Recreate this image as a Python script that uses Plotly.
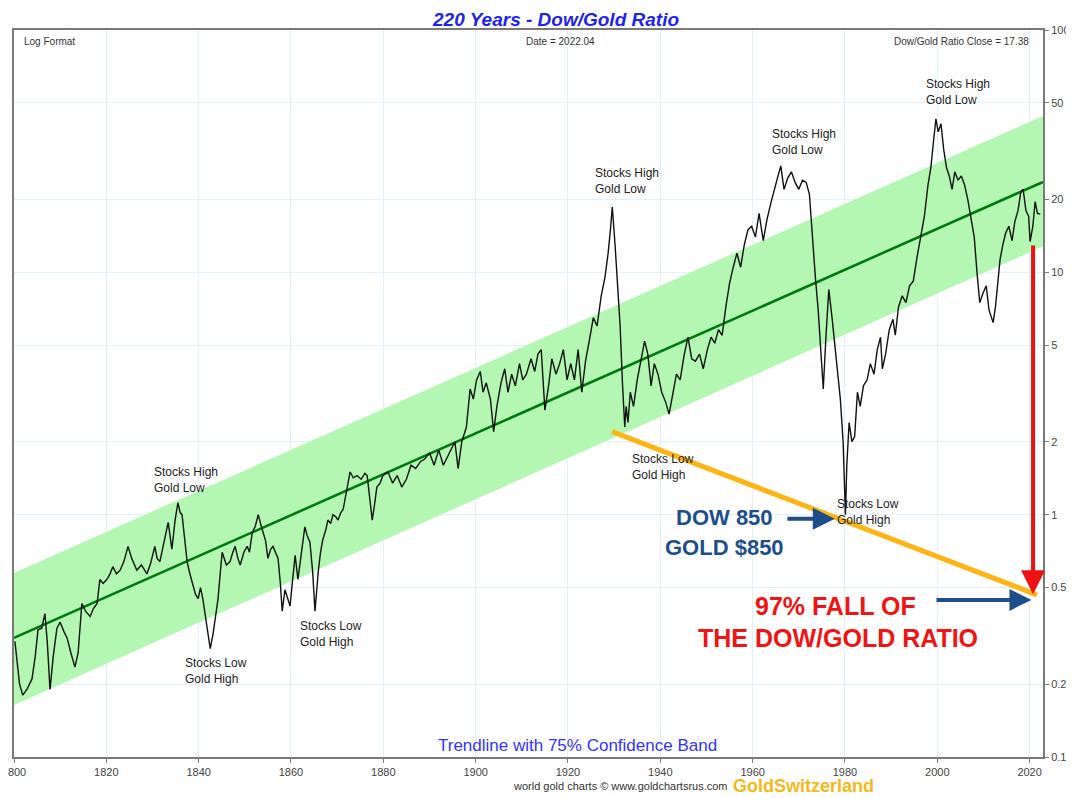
import math
import plotly.graph_objects as go

# ---------------- data ----------------
YEARS = [
    1800.2, 1800.6, 1801.2, 1801.9, 1802.8, 1803.9, 1804.6, 1805.2, 1806.0, 1806.7,
    1807.2, 1807.8, 1808.5, 1809.3, 1810.0, 1810.8, 1811.5, 1812.3, 1813.2, 1813.9,
    1814.7, 1815.5, 1816.5, 1817.2, 1818.0, 1818.6, 1819.3, 1820.1, 1820.8, 1821.4,
    1822.2, 1823.0, 1823.8, 1824.7, 1825.5, 1826.6, 1827.6, 1828.8, 1829.6, 1830.5,
    1831.0, 1831.6, 1832.5, 1833.4, 1834.2, 1834.9, 1835.5, 1836.0, 1836.4, 1837.0,
    1837.5, 1838.0, 1838.6, 1839.3, 1839.9, 1840.4, 1840.9, 1841.5, 1842.0, 1842.5,
    1843.1, 1843.7, 1844.2, 1844.7, 1845.1, 1846.0, 1846.8, 1847.4, 1847.9, 1848.5,
    1849.0, 1849.8, 1850.5, 1851.0, 1851.6, 1852.3, 1852.9, 1853.4, 1853.9, 1854.5,
    1855.0, 1855.6, 1856.1, 1856.7, 1857.2, 1857.7, 1858.1, 1858.7, 1859.3, 1859.8,
    1860.4, 1860.9, 1861.5, 1862.2, 1863.0, 1863.5, 1864.1, 1864.7, 1865.2, 1865.9,
    1866.4, 1866.9, 1867.5, 1868.0, 1868.6, 1869.1, 1869.7, 1870.2, 1870.8, 1871.3,
    1872.0, 1872.8, 1873.5, 1874.3, 1875.2, 1876.0, 1876.5, 1877.0, 1877.6, 1878.1,
    1878.6, 1879.3, 1879.9, 1881.0, 1882.0, 1883.0, 1884.0, 1885.0, 1886.0, 1887.0,
    1888.0, 1889.0, 1890.0, 1891.0, 1892.0, 1893.0, 1894.0, 1895.0, 1895.5, 1896.2,
    1897.0, 1898.0, 1898.8, 1899.5, 1900.2, 1901.0, 1901.6, 1902.3, 1903.2, 1903.9,
    1904.6, 1905.5, 1906.3, 1907.0, 1907.8, 1908.6, 1909.5, 1910.2, 1911.0, 1912.0,
    1912.8, 1913.5, 1914.2, 1915.0, 1915.8, 1916.5, 1917.4, 1918.2, 1919.0, 1919.8,
    1920.6, 1921.4, 1922.2, 1923.0, 1923.8, 1924.6, 1925.5, 1926.3, 1927.2, 1928.0,
    1928.7, 1929.2, 1929.6, 1930.2, 1930.8, 1931.3, 1931.8, 1932.3, 1932.6, 1933.0,
    1933.5, 1934.2, 1935.0, 1935.8, 1936.6, 1937.3, 1938.0, 1938.7, 1939.5, 1940.3,
    1941.2, 1941.9, 1942.6, 1943.5, 1944.3, 1945.2, 1946.0, 1946.8, 1947.6, 1948.5,
    1949.3, 1950.2, 1951.0, 1951.8, 1952.6, 1953.4, 1954.2, 1955.0, 1955.8, 1956.6,
    1957.4, 1958.2, 1959.0, 1959.8, 1960.6, 1961.4, 1962.3, 1963.1, 1964.0, 1964.8,
    1965.5, 1966.1, 1966.8, 1967.6, 1968.4, 1969.2, 1970.0, 1970.8, 1971.6, 1972.3,
    1973.0, 1973.6, 1974.2, 1974.8, 1975.3, 1975.9, 1976.5, 1977.2, 1977.8, 1978.4,
    1979.0, 1979.6, 1980.1, 1980.4, 1980.9, 1981.5, 1982.1, 1982.7, 1983.3, 1984.0,
    1984.8, 1985.5, 1986.3, 1987.0, 1987.7, 1988.1, 1988.8, 1989.6, 1990.4, 1990.9,
    1991.6, 1992.4, 1993.2, 1994.0, 1994.8, 1995.6, 1996.4, 1997.2, 1998.0, 1998.6,
    1999.2, 1999.7, 2000.2, 2000.8, 2001.4, 2002.0, 2002.6, 2003.2, 2003.8, 2004.5,
    2005.2, 2005.9, 2006.6, 2007.3, 2008.0, 2008.6, 2009.2, 2009.9, 2010.6, 2011.2,
    2012.1, 2012.6, 2013.0, 2013.6, 2014.2, 2014.8, 2015.5, 2016.2, 2016.8, 2017.5,
    2018.1, 2018.6, 2019.2, 2019.8, 2020.1, 2020.7, 2021.2, 2021.7, 2022.3,
]
RATIO = [
    0.30, 0.25, 0.20, 0.18, 0.19, 0.21, 0.26, 0.335, 0.34, 0.39,
    0.30, 0.19, 0.26, 0.34, 0.36, 0.33, 0.31, 0.27, 0.235, 0.27,
    0.43, 0.40, 0.38, 0.41, 0.43, 0.54, 0.52, 0.54, 0.57, 0.61,
    0.57, 0.59, 0.64, 0.74, 0.66, 0.59, 0.62, 0.57, 0.63, 0.74,
    0.66, 0.64, 0.78, 0.93, 0.72, 0.95, 1.12, 1.02, 1.00, 0.80,
    0.64, 0.58, 0.53, 0.47, 0.45, 0.50, 0.45, 0.38, 0.32, 0.28,
    0.32, 0.38, 0.45, 0.58, 0.70, 0.62, 0.64, 0.70, 0.74, 0.66,
    0.62, 0.70, 0.74, 0.70, 0.84, 0.90, 1.00, 0.92, 0.86, 0.78,
    0.66, 0.72, 0.74, 0.70, 0.66, 0.52, 0.40, 0.49, 0.45, 0.42,
    0.55, 0.68, 0.54, 0.70, 0.89, 0.82, 0.77, 0.58, 0.40, 0.58,
    0.70, 0.79, 0.86, 0.95, 0.92, 1.00, 0.98, 0.95, 1.02, 1.05,
    1.25, 1.50, 1.42, 1.45, 1.40, 1.48, 1.45, 1.20, 0.95, 1.10,
    1.30, 1.35, 1.45, 1.50, 1.35, 1.45, 1.30, 1.40, 1.60, 1.55,
    1.65, 1.70, 1.80, 1.60, 1.85, 1.60, 1.75, 1.90, 2.00, 1.55,
    2.00, 2.30, 3.30, 3.00, 3.60, 3.90, 3.20, 3.50, 3.00, 2.20,
    2.80, 3.50, 4.00, 3.20, 3.80, 3.40, 4.20, 3.60, 3.80, 4.40,
    3.90, 4.60, 4.80, 2.70, 3.40, 4.40, 3.80, 4.20, 4.80, 3.60,
    4.20, 3.60, 4.80, 3.20, 4.30, 5.20, 6.50, 6.00, 8.00, 9.50,
    12.0, 15.0, 18.6, 13.0, 9.00, 6.00, 3.50, 2.30, 2.80, 2.40,
    3.20, 2.80, 3.60, 4.40, 5.20, 4.60, 3.40, 4.20, 3.80, 3.20,
    2.90, 2.60, 3.10, 3.80, 3.60, 4.60, 5.40, 4.40, 4.30, 4.60,
    4.00, 4.80, 5.40, 5.10, 5.80, 5.50, 7.20, 9.00, 10.5, 12.0,
    10.5, 13.0, 15.0, 15.5, 14.0, 17.5, 13.5, 16.5, 19.5, 22.0,
    25.0, 27.5, 22.0, 24.5, 26.0, 23.5, 22.0, 24.0, 23.5, 21.0,
    13.0, 9.50, 7.00, 4.50, 3.30, 5.50, 8.50, 6.50, 5.00, 4.00,
    3.00, 2.00, 1.00, 1.60, 2.40, 2.00, 2.10, 3.20, 2.80, 3.40,
    3.60, 4.20, 3.80, 4.80, 5.40, 4.00, 4.60, 5.80, 6.40, 5.50,
    7.20, 8.00, 7.50, 8.80, 9.20, 11.5, 14.0, 17.0, 23.0, 27.0,
    35.0, 43.0, 38.0, 41.0, 32.0, 27.0, 25.0, 22.0, 26.0, 24.0,
    25.0, 23.0, 20.0, 17.0, 14.0, 10.0, 7.50, 8.20, 8.80, 7.00,
    6.20, 7.20, 8.50, 11.3, 13.0, 14.5, 15.5, 13.5, 16.2, 18.0,
    21.5, 22.0, 18.0, 17.0, 13.4, 15.5, 19.6, 17.5, 17.38,
]

TREND_YEARS = [1800, 2022.9]
TREND = [0.31, 23.6]
BAND_UPPER = [0.575, 44.2]
BAND_LOWER = [0.164, 12.8]

X_TICKS = list(range(1800, 2021, 20))
Y_TICKS = [0.1, 0.2, 0.5, 1, 2, 5, 10, 20, 50, 100]
Y_TICK_LABELS = ["0.1", "0.2", "0.5", "1", "2", "5", "10", "20", "50", "100"]

FALL_LINE_YEARS = [1929.55, 2021.6]
FALL_LINE_VALUES = [2.2, 0.467]

# annotation labels: (year, value at top of text, text)
EVENT_LABELS = [
    (1829.9, 1.63, "Stocks High<br>Gold Low"),
    (1836.6, 0.265, "Stocks Low<br>Gold High"),
    (1861.5, 0.38, "Stocks Low<br>Gold High"),
    (1925.4, 27.9, "Stocks High<br>Gold Low"),
    (1933.4, 1.84, "Stocks Low<br>Gold High"),
    (1963.8, 40.5, "Stocks High<br>Gold Low"),
    (1977.9, 1.20, "Stocks Low<br>Gold High"),
    (1997.1, 65.2, "Stocks High<br>Gold Low"),
]

L = math.log10
FONT = "Liberation Sans, Arial"

fig = go.Figure()

# confidence band
fig.add_trace(go.Scatter(x=TREND_YEARS, y=BAND_UPPER, mode="lines",
                         line=dict(width=0, color="rgba(0,0,0,0)"),
                         hoverinfo="skip", showlegend=False))
fig.add_trace(go.Scatter(x=TREND_YEARS, y=BAND_LOWER, mode="lines",
                         line=dict(width=0, color="rgba(0,0,0,0)"),
                         fill="tonexty", fillcolor="#b3f7b3",
                         hoverinfo="skip", showlegend=False))
# trend line
fig.add_trace(go.Scatter(x=TREND_YEARS, y=TREND, mode="lines",
                         line=dict(width=2.6, color="#007a10"),
                         showlegend=False))
# Dow/Gold ratio
fig.add_trace(go.Scatter(x=YEARS, y=RATIO, mode="lines",
                         line=dict(width=1.4, color="#111111"),
                         showlegend=False))
# yellow falling line
fig.add_trace(go.Scatter(x=FALL_LINE_YEARS, y=FALL_LINE_VALUES, mode="lines",
                         line=dict(width=5, color="#FDB515"),
                         showlegend=False))

annotations = []
for yr, val, txt in EVENT_LABELS:
    annotations.append(dict(x=yr, y=L(val), xref="x", yref="y", text=txt,
                            showarrow=False, xanchor="left", yanchor="top",
                            align="left",
                            font=dict(family=FONT, size=12, color="#222222")))

# big texts
annotations += [
    dict(x=1953.8, y=L(0.973), xref="x", yref="y", text="<b>DOW 850</b>", showarrow=False,
         font=dict(family=FONT, size=22, color="#1d4e89")),
    dict(x=1953.8, y=L(0.731), xref="x", yref="y", text="<b>GOLD $850</b>", showarrow=False,
         font=dict(family=FONT, size=22, color="#1d4e89")),
    dict(x=1977.9, y=L(0.421), xref="x", yref="y", text="<b>97% FALL OF</b>", showarrow=False,
         font=dict(family=FONT, size=25, color="#f01414")),
    dict(x=1978.5, y=L(0.310), xref="x", yref="y", text="<b>THE DOW/GOLD RATIO</b>", showarrow=False,
         font=dict(family=FONT, size=25, color="#f01414")),
]

# arrows
annotations += [
    dict(x=1977.8, y=L(0.962), ax=1967.2, ay=L(0.962), xref="x", yref="y",
         axref="x", ayref="y", text="", showarrow=True, arrowhead=2,
         arrowsize=1.1, arrowwidth=4, arrowcolor="#1d4e89"),
    dict(x=2020.4, y=L(0.445), ax=1999.5, ay=L(0.445), xref="x", yref="y",
         axref="x", ayref="y", text="", showarrow=True, arrowhead=2,
         arrowsize=1.1, arrowwidth=4, arrowcolor="#1d4e89"),
    dict(x=2020.75, y=L(0.47), ax=2020.75, ay=L(13.1), xref="x", yref="y",
         axref="x", ayref="y", text="", showarrow=True, arrowhead=2,
         arrowsize=1.2, arrowwidth=4, arrowcolor="#ee1111"),
]

# titles and captions (paper coordinates)
annotations += [
    dict(x=0.5267, y=1.0, yshift=-2, xref="paper", yref="paper", yanchor="bottom",
         text="<b><i>220 Years - Dow/Gold Ratio</i></b>", showarrow=False,
         font=dict(family=FONT, size=19, color="#2222ee")),
    dict(x=0.008, y=0.995, xref="paper", yref="paper", xanchor="left", yanchor="top",
         text="Log Format", showarrow=False,
         font=dict(family=FONT, size=10, color="#333333")),
    dict(x=0.531, y=0.995, xref="paper", yref="paper", xanchor="center", yanchor="top",
         text="Date = 2022.04", showarrow=False,
         font=dict(family=FONT, size=10, color="#333333")),
    dict(x=0.988, y=0.995, xref="paper", yref="paper", xanchor="right", yanchor="top",
         text="Dow/Gold Ratio Close = 17.38", showarrow=False,
         font=dict(family=FONT, size=10, color="#333333")),
    dict(x=0.548, y=0.0, xref="paper", yref="paper", xanchor="center", yanchor="bottom",
         text="Trendline with 75% Confidence Band", showarrow=False,
         font=dict(family=FONT, size=17, color="#3333ff")),
    dict(x=0.696, y=-0.0405, xref="paper", yref="paper", xanchor="right", yanchor="middle",
         text="world gold charts © www.goldchartsrus.com", showarrow=False,
         font=dict(family=FONT, size=11, color="#333333")),
    dict(x=0.697, y=-0.0405, xref="paper", yref="paper", xanchor="left", yanchor="middle",
         text="<b>GoldSwitzerland</b>", showarrow=False,
         font=dict(family=FONT, size=18, color="#f5b81a")),
]

axis_common = dict(
    showgrid=True, gridcolor="#e2f0fb", gridwidth=1,
    showline=True, linecolor="#7a7a7a", linewidth=2, mirror=True,
    ticks="outside", ticklen=4, tickcolor="#7a7a7a",
    tickfont=dict(family=FONT, size=11, color="#444444"),
    zeroline=False, automargin=False, ticklabeloverflow="allow",
)

# the page places the figure 8px in from the top-left, so the figure is 8px
# smaller than the window and its margins are shifted accordingly
fig.update_layout(
    template="none",
    width=1066, height=790,
    margin=dict(l=6, r=31, t=22, b=41, autoexpand=False),
    paper_bgcolor="white", plot_bgcolor="white",
    showlegend=False,
    annotations=annotations,
    xaxis=dict(range=[1800, 2022.9], tickvals=X_TICKS,
               ticktext=[str(v) for v in X_TICKS], **axis_common),
    yaxis=dict(type="log", range=[-1, 2], side="right",
               tickvals=Y_TICKS, ticktext=Y_TICK_LABELS, **axis_common),
)

fig.write_html("out.html")
